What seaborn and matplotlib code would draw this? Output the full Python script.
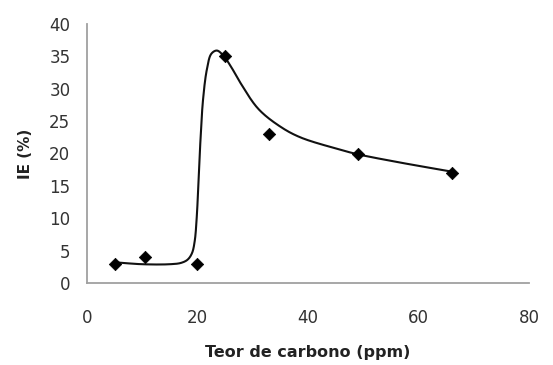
import numpy as np
import pandas as pd
import matplotlib
matplotlib.use("Agg")
import matplotlib.pyplot as plt
import seaborn as sns

# Measured points
carbon = [5, 10.5, 20, 25, 33, 49, 66]
ie = [3, 4, 3, 35, 23, 20, 17]

# Smoothed curve knots
curve_x = [5, 10, 15, 17.0, 18.2, 19.0, 19.5, 19.85, 20.15, 20.5, 21.0, 21.7,
           22.5, 23.5, 24.6, 26.0, 27.7, 31.0, 34.9, 38.6, 45.8, 48.9, 56.7, 66]
curve_y = [3.2, 2.9, 2.9, 3.1, 3.6, 4.6, 6.5, 10.0, 15.0, 21.5, 28.3, 33.0,
           35.4, 35.9, 35.2, 33.5, 31.0, 26.9, 24.2, 22.5, 20.6, 19.9, 18.6, 17.2]

x_ticks = [0, 20, 40, 60, 80]
y_ticks = [0, 5, 10, 15, 20, 25, 30, 35, 40]
x_label = "Teor de carbono (ppm)"
y_label = "IE (%)"


def catmull_rom(xs, ys, sx, sy, n=30):
    P = np.column_stack([np.asarray(xs) * sx, np.asarray(ys) * sy])
    P = np.vstack([2 * P[0] - P[1], P, 2 * P[-1] - P[-2]])
    out = []
    for i in range(1, len(P) - 2):
        p0, p1, p2, p3 = P[i - 1], P[i], P[i + 1], P[i + 2]
        t0 = 0.0
        t1 = t0 + np.linalg.norm(p1 - p0) ** 0.5
        t2 = t1 + np.linalg.norm(p2 - p1) ** 0.5
        t3 = t2 + np.linalg.norm(p3 - p2) ** 0.5
        t = np.linspace(t1, t2, n)[:, None]
        a1 = (t1 - t) / (t1 - t0) * p0 + (t - t0) / (t1 - t0) * p1
        a2 = (t2 - t) / (t2 - t1) * p1 + (t - t1) / (t2 - t1) * p2
        a3 = (t3 - t) / (t3 - t2) * p2 + (t - t2) / (t3 - t2) * p3
        b1 = (t2 - t) / (t2 - t0) * a1 + (t - t0) / (t2 - t0) * a2
        b2 = (t3 - t) / (t3 - t1) * a2 + (t - t1) / (t3 - t1) * a3
        c = (t2 - t) / (t2 - t1) * b1 + (t - t1) / (t2 - t1) * b2
        out.append(c if i == len(P) - 3 else c[:-1])
    out = np.vstack(out)
    return out[:, 0] / sx, out[:, 1] / sy


sns.set_theme(style="white")
plt.rcParams["font.family"] = ["DejaVu Sans"]

fig = plt.figure(figsize=(5.53, 3.65), dpi=100)
ax = fig.add_axes([87 / 553, 1 - 283 / 365, 442 / 553, 259 / 365])

cx, cy = catmull_rom(curve_x, curve_y, 442 / 80, 259 / 40)
curve_df = pd.DataFrame({"x": cx, "y": cy})
sns.lineplot(data=curve_df, x="x", y="y", ax=ax, color="#111111", lw=1.5,
             sort=False, estimator=None)

pts = pd.DataFrame({"x": carbon, "y": ie})
sns.scatterplot(data=pts, x="x", y="y", ax=ax, marker="D", s=40,
                color="black", edgecolor="black", linewidth=0.5, zorder=3)

ax.set_xlim(0, 80)
ax.set_ylim(0, 40)
ax.set_xticks(x_ticks)
ax.set_yticks(y_ticks)
ax.tick_params(axis="both", direction="out", width=1.1,
               color="#a0a0a0", labelsize=12, labelcolor="#333333")
ax.tick_params(axis="x", length=4, pad=15)
ax.tick_params(axis="y", length=6, pad=6)
for s in ["top", "right"]:
    ax.spines[s].set_visible(False)
for s in ["left", "bottom"]:
    ax.spines[s].set_color("#a0a0a0")
    ax.spines[s].set_linewidth(1.3)

ax.set_xlabel(x_label, fontsize=11.5, fontweight="bold", color="#222222",
              labelpad=13)
ax.set_ylabel(y_label, fontsize=11, fontweight="bold", color="#222222",
              labelpad=12)

fig.savefig("out.png", dpi=100)
